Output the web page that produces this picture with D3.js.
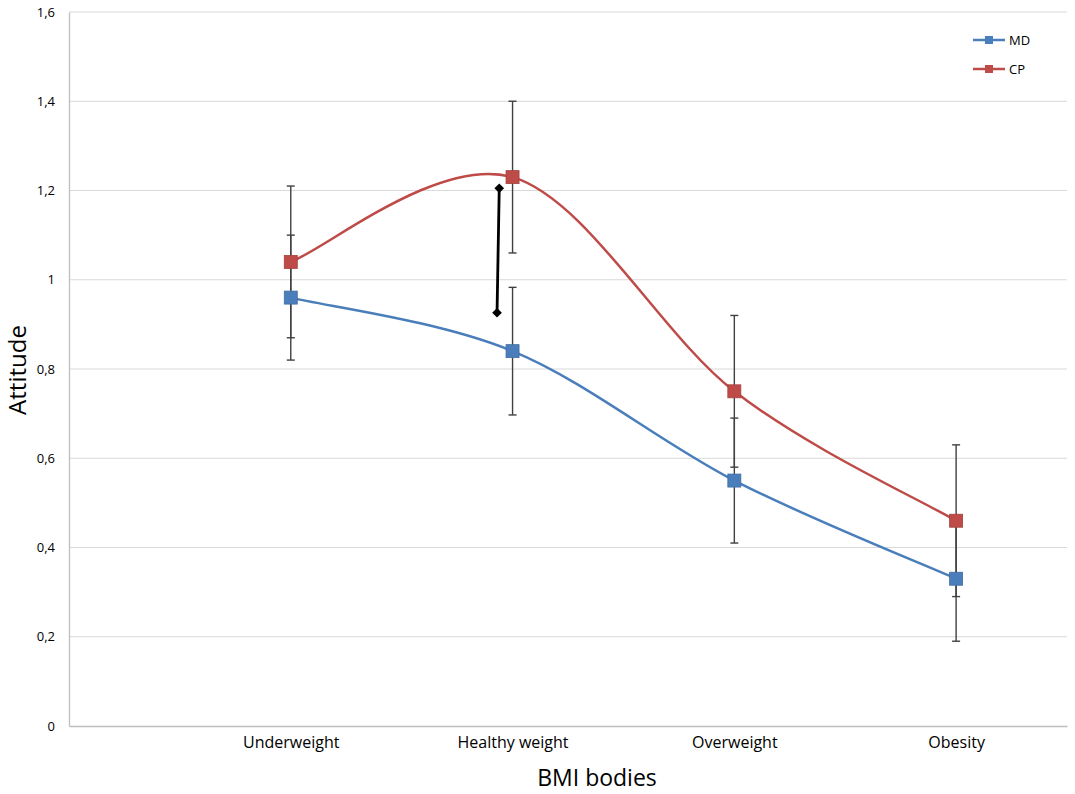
<!DOCTYPE html>
<html>
<head>
<meta charset="utf-8">
<script src="https://cdn.jsdelivr.net/npm/d3@7"></script>
<style>
  body { margin: 0; background: #fff; }
  svg text { font-family: "Open Sans", "DejaVu Sans", sans-serif; fill: #000; }
</style>
</head>
<body>
<div class="chart"></div>
<script>
// categories along the x axis (position 0 is left empty, as in the original)
var categories = ["Underweight", "Healthy weight", "Overweight", "Obesity"];

// mean attitude per group
var mdValues = [0.96, 0.84, 0.55, 0.33];
var cpValues = [1.04, 1.23, 0.75, 0.46];

// error bar half widths
var mdErrors = [0.14, 0.143, 0.14, 0.14];
var cpErrors = [0.17, 0.17, 0.17, 0.17];

// the black marker line next to "Healthy weight"
var bracketPoints = [{ x: 1.94, y: 1.205 }, { x: 1.93, y: 0.926 }];

var yTicks = [0, 0.2, 0.4, 0.6, 0.8, 1, 1.2, 1.4, 1.6];

var svgWidth = 1075;
var svgHeight = 794;

var margin = { top: 12, right: 8, bottom: 68, left: 69 };
var width = svgWidth - margin.left - margin.right;
var height = svgHeight - margin.top - margin.bottom;

// spreadsheet style smoothing: control points at +-(next - prev)/6,
// with the end points repeated
function ExcelCurve(context) { this._context = context; }
ExcelCurve.prototype = {
  areaStart: function () { this._line = 0; },
  areaEnd: function () { this._line = NaN; },
  lineStart: function () { this._pts = []; },
  point: function (x, y) { this._pts.push([+x, +y]); },
  lineEnd: function () {
    var p = this._pts, n = p.length, c = this._context;
    if (!n) return;
    c.moveTo(p[0][0], p[0][1]);
    for (var i = 0; i < n - 1; i++) {
      var a = p[Math.max(i - 1, 0)], b = p[i], e = p[i + 1], f = p[Math.min(i + 2, n - 1)];
      c.bezierCurveTo(
        b[0] + (e[0] - a[0]) / 6, b[1] + (e[1] - a[1]) / 6,
        e[0] - (f[0] - b[0]) / 6, e[1] - (f[1] - b[1]) / 6,
        e[0], e[1]);
    }
  }
};
function curveExcel(context) { return new ExcelCurve(context); }

var svg = d3.select(".chart")
  .append("svg")
  .attr("width", svgWidth)
  .attr("height", svgHeight);

var chartGroup = svg.append("g")
  .attr("transform", `translate(${margin.left}, ${margin.top})`);

var x = d3.scaleLinear().domain([0, 4.5]).range([0, width]);
var y = d3.scaleLinear().domain([0, 1.6]).range([height, 0]);

// grid lines
chartGroup.append("g")
  .selectAll("line")
  .data(yTicks.slice(1))
  .join("line")
  .attr("x1", 0)
  .attr("x2", width)
  .attr("y1", d => y(d))
  .attr("y2", d => y(d))
  .attr("stroke", "#d9d9d9")
  .attr("stroke-width", 1);

// y axis
var yAxis = d3.axisLeft(y)
  .tickValues(yTicks)
  .tickSize(0)
  .tickPadding(14)
  .tickFormat(d => String(d).replace(".", ","));

var yAxisGroup = chartGroup.append("g").call(yAxis);
yAxisGroup.select(".domain").attr("stroke", "#bfbfbf").attr("stroke-width", 1.3);
yAxisGroup.selectAll("text").style("font-size", "13px").attr("fill", "#000");

// x axis
var xAxis = d3.axisBottom(x)
  .tickValues([1, 2, 3, 4])
  .tickSize(0)
  .tickPadding(11)
  .tickFormat(d => categories[d - 1]);

var xAxisGroup = chartGroup.append("g")
  .attr("transform", `translate(0, ${height})`)
  .call(xAxis);
xAxisGroup.select(".domain").attr("stroke", "#bfbfbf").attr("stroke-width", 1.3);
xAxisGroup.selectAll("text").style("font-size", "16px").attr("fill", "#000");

// build the two series
var series = [
  { name: "MD", color: "#4a7ebb", values: mdValues, errors: mdErrors },
  { name: "CP", color: "#be4b48", values: cpValues, errors: cpErrors }
];
series.forEach(function (s) {
  s.points = s.values.map((v, i) => ({ x: i + 1, y: v, e: s.errors[i] }));
});

// error bars
var capW = 4;
series.forEach(function (s) {
  var eb = chartGroup.append("g").attr("stroke", "#404040").attr("stroke-width", 1.4);
  eb.selectAll("line.stem")
    .data(s.points)
    .join("line")
    .attr("class", "stem")
    .attr("x1", d => x(d.x))
    .attr("x2", d => x(d.x))
    .attr("y1", d => y(d.y - d.e))
    .attr("y2", d => y(d.y + d.e));
  eb.selectAll("line.capTop")
    .data(s.points)
    .join("line")
    .attr("class", "capTop")
    .attr("x1", d => x(d.x) - capW)
    .attr("x2", d => x(d.x) + capW)
    .attr("y1", d => y(d.y + d.e))
    .attr("y2", d => y(d.y + d.e));
  eb.selectAll("line.capBot")
    .data(s.points)
    .join("line")
    .attr("class", "capBot")
    .attr("x1", d => x(d.x) - capW)
    .attr("x2", d => x(d.x) + capW)
    .attr("y1", d => y(d.y - d.e))
    .attr("y2", d => y(d.y - d.e));
});

// smoothed lines
var line = d3.line()
  .x(d => x(d.x))
  .y(d => y(d.y))
  .curve(curveExcel);

series.forEach(function (s) {
  chartGroup.append("path")
    .datum(s.points)
    .attr("fill", "none")
    .attr("stroke", s.color)
    .attr("stroke-width", 2.5)
    .attr("d", line);
});

// square markers
var mk = 13;
series.forEach(function (s) {
  chartGroup.append("g")
    .selectAll("rect")
    .data(s.points)
    .join("rect")
    .attr("x", d => x(d.x) - mk / 2)
    .attr("y", d => y(d.y) - mk / 2)
    .attr("width", mk)
    .attr("height", mk)
    .attr("fill", s.color)
    .attr("stroke", d3.color(s.color).darker(0.4))
    .attr("stroke-width", 0.8);
});

// black line with diamond ends
chartGroup.append("path")
  .datum(bracketPoints)
  .attr("fill", "none")
  .attr("stroke", "#000")
  .attr("stroke-width", 2.8)
  .attr("d", d3.line().x(d => x(d.x)).y(d => y(d.y)));

chartGroup.append("g")
  .selectAll("path")
  .data(bracketPoints)
  .join("path")
  .attr("transform", d => `translate(${x(d.x)}, ${y(d.y)})`)
  .attr("d", d3.symbol().type(d3.symbolDiamond2).size(60))
  .attr("fill", "#000");

// legend
var legend = svg.append("g").attr("transform", "translate(973, 40)");
series.forEach(function (s, i) {
  var g = legend.append("g").attr("transform", `translate(0, ${i * 29})`);
  g.append("line")
    .attr("x1", 0).attr("x2", 32)
    .attr("stroke", s.color).attr("stroke-width", 2.5);
  g.append("rect")
    .attr("x", 12).attr("y", -4).attr("width", 8).attr("height", 8)
    .attr("fill", s.color);
  g.append("text")
    .attr("x", 36).attr("y", 4.5)
    .style("font-size", "13px")
    .text(s.name);
});

// axis titles
svg.append("text")
  .attr("x", 597)
  .attr("y", 786)
  .style("text-anchor", "middle")
  .style("font-size", "23px")
  .text("BMI bodies");

svg.append("text")
  .attr("transform", "rotate(-90)")
  .attr("x", -370)
  .attr("y", 26)
  .style("text-anchor", "middle")
  .style("font-size", "24px")
  .text("Attitude");
</script>
</body>
</html>
